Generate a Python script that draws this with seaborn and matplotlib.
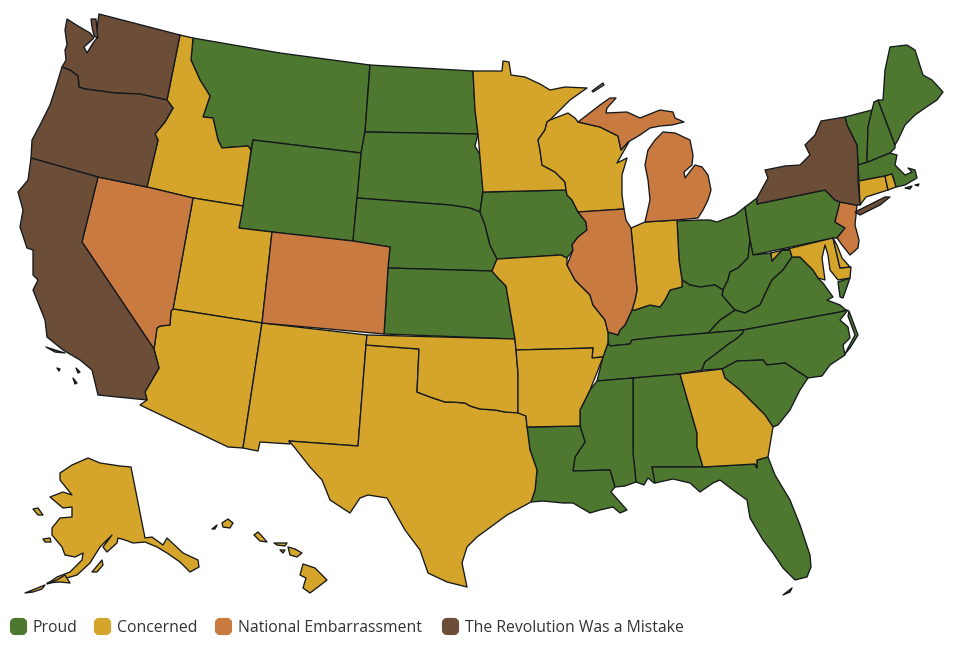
import matplotlib
matplotlib.use("Agg")
import matplotlib.pyplot as plt
from matplotlib.patches import FancyBboxPatch
import seaborn as sns

LEGEND_LABELS = ["Proud", "Concerned", "National Embarrassment", "The Revolution Was a Mistake"]
COLORS = ["#4E772F", "#D4A52A", "#C97A40", "#6B4D38"]

PROUD = ["MT","ND","SD","WY","NE","KS","IA","OH","PA","WV","VA","KY","TN","NC","SC","AL","MS","LA","FL","VT","NH","ME","MA"]
CONCERNED = ["ID","UT","AZ","NM","TX","OK","MO","AR","MN","WI","IN","GA","CT","RI","MD","DE","AK","HI"]
EMBARRASSED = ["NV","CO","IL","MI","NJ"]
MISTAKE = ["WA","OR","CA","NY"]

WA = [[(99,14),(180,35),(167,100),(140,94),(115,93),(100,91),(85,89),(79,87),(78,76),(70,70),(62,67),(66,60),(65,50),(67,45),(65,30),(67,19),(78,26),(90,33),(94,38),(84,47),(87,53),(93,43),(97,38),(97,28)],
      [(91,19),(96,19),(97,30),(98,38),(94,36),(92,27)]]
OR = [[(62,67),(70,70),(78,76),(79,87),(85,89),(100,91),(115,93),(140,94),(167,100),(173,108),(165,122),(155,134),(158,140),(147,187),(98,177),(31,158),(32,140),(40,125),(50,105),(55,90)]]
CA = [[(31,158),(98,177),(82,242),(154,349),(159,368),(145,392),(147,400),(98,395),(92,370),(80,360),(63,350),(47,337),(45,320),(33,290),(38,280),(33,275),(33,250),(27,248),(20,227),(23,210),(18,192),(28,180)],
      [(46,347),(55,350),(65,353),(55,352)],[(57,368),(60,369),(59,371)],[(76,368),(80,372),(78,373)],[(73,378),(77,383),(75,384)]]
NV = [[(98,177),(147,187),(193,198),(173,309),(171,311),(170,325),(160,326),(157,328),(154,349),(82,242)]]
ID = [[(180,35),(193,38),(191,60),(200,80),(210,96),(203,117),(213,118),(218,140),(222,148),(248,146),(251,150),(243,206),(193,198),(147,187),(158,140),(155,134),(165,122),(173,108),(167,100)]]
MT = [[(193,38),(280,53),(370,65),(365,132),(361,153),(253,140),(251,150),(248,146),(222,148),(218,140),(213,118),(203,117),(210,96),(200,80),(191,60)]]
WY = [[(253,140),(361,153),(357,198),(353,241),(272,232),(239,228)]]
UT = [[(193,198),(243,206),(239,228),(272,232),(262,323),(173,309)]]
CO = [[(272,232),(353,241),(390,247),(388,268),(384,334),(262,323)]]
AZ = [[(173,309),(262,323),(243,448),(228,447),(140,405),(147,400),(145,392),(159,368),(154,349),(157,328),(160,326),(170,325),(171,311)]]
NM = [[(262,323),(367,335),(366,345),(358,446),(289,441),(290,444),(260,442),(258,451),(243,448)]]
ND = [[(370,65),(473,71),(475,110),(478,134),(365,132)]]
SD = [[(365,132),(478,134),(475,146),(480,155),(483,190),(480,212),(470,208),(450,205),(357,198),(361,153)]]
NE = [[(357,198),(450,205),(470,208),(480,212),(485,225),(490,245),(497,259),(492,271),(388,268),(390,247),(353,241)]]
KS = [[(388,268),(492,271),(498,278),(506,286),(515,339),(384,334)]]
OK = [[(367,335),(515,339),(516,350),(518,373),(518,413),(505,412),(495,410),(480,409),(470,406),(465,403),(452,402),(445,402),(430,397),(417,392),(419,349),(366,345)]]
TX = [[(366,345),(419,349),(417,392),(430,397),(445,402),(452,402),(465,403),(470,406),(480,409),(495,410),(505,412),(517,407),(526,416),(527,427),(530,450),(537,470),(535,490),(531,502),(507,515),(477,537),(467,547),(462,563),(467,587),(447,582),(428,573),(420,550),(405,530),(387,498),(368,495),(360,498),(350,513),(330,500),(322,480),(310,467),(295,448),(289,441),(358,446)]]
MN = [[(473,71),(502,71),(503,61),(509,62),(511,75),(525,77),(540,84),(550,90),(565,87),(587,88),(570,100),(550,120),(547,122),(545,130),(538,140),(540,150),(542,165),(555,172),(565,182),(566,190),(483,192),(478,134),(475,110)]]
IA = [[(483,192),(566,190),(567,195),(572,200),(578,212),(586,222),(587,230),(578,237),(572,245),(573,250),(567,258),(561,255),(497,259),(490,245),(485,225),(480,212)]]
MO = [[(497,259),(561,255),(567,258),(567,265),(575,280),(590,295),(593,305),(605,320),(608,332),(608,343),(603,357),(592,358),(593,348),(516,350),(515,339),(506,286),(498,278),(492,271)]]
AR = [[(516,350),(593,348),(592,358),(603,357),(598,370),(590,390),(580,410),(580,426),(527,427),(526,416),(518,413),(518,373)]]
LA = [[(527,427),(580,426),(585,442),(575,457),(573,471),(610,470),(615,487),(611,492),(627,510),(620,513),(613,507),(600,510),(590,513),(573,503),(563,503),(543,501),(531,502),(535,490),(537,470),(530,450)]]
WI = [[(550,120),(568,113),(575,118),(578,122),(600,127),(618,136),(621,150),(630,140),(617,163),(627,158),(622,175),(622,195),(624,209),(580,212),(578,212),(572,200),(567,195),(566,190),(565,182),(555,172),(542,165),(540,150),(538,140),(545,130),(547,122)]]
IL = [[(578,212),(624,209),(626,220),(631,228),(637,290),(635,300),(632,310),(625,325),(620,330),(618,335),(608,332),(605,320),(593,305),(590,295),(575,280),(567,265),(573,250),(572,245),(578,237),(587,230),(586,222)]]
MI = [[(578,122),(600,105),(610,98),(616,98),(607,108),(606,113),(627,112),(640,118),(660,110),(673,112),(675,118),(684,122),(672,125),(660,126),(650,128),(640,135),(628,142),(621,150),(618,136),(600,127)],
      [(663,132),(675,133),(690,140),(693,155),(692,165),(684,172),(685,178),(695,165),(702,167),(708,175),(711,190),(708,200),(703,210),(698,218),(677,220),(645,222),(650,200),(648,180),(645,165),(648,150),(655,140)],
      [(592,91),(603,83),(604,85),(593,92)]]
IN = [[(631,228),(645,222),(677,220),(679,260),(682,280),(682,287),(670,290),(665,300),(660,307),(650,305),(635,310),(632,310),(635,300),(637,290)]]
OH = [[(677,221),(700,220),(710,220),(717,222),(735,215),(745,207),(750,240),(748,258),(738,268),(730,272),(728,280),(723,290),(715,285),(700,287),(690,285),(682,280),(679,260)]]
KY = [[(682,280),(690,285),(700,287),(715,285),(723,290),(722,295),(732,307),(735,310),(720,320),(708,333),(660,337),(632,340),(630,344),(610,346),(608,343),(608,332),(618,335),(620,330),(625,325),(632,310),(635,310),(650,305),(660,307),(665,300),(670,290),(682,287)]]
TN = [[(610,346),(630,344),(632,340),(660,337),(708,333),(743,330),(743,333),(735,340),(730,343),(717,353),(705,362),(702,370),(680,374),(633,378),(597,381),(603,357),(608,343)]]
WV = [[(723,290),(728,280),(730,272),(738,268),(748,258),(750,240),(753,255),(771,253),(772,261),(782,250),(790,250),(792,257),(783,270),(772,280),(767,290),(760,305),(745,313),(735,310),(732,307),(722,295)]]
VA = [[(708,333),(720,320),(735,310),(745,313),(760,305),(767,290),(772,280),(783,270),(792,257),(800,257),(813,270),(818,278),(823,283),(833,297),(827,300),(840,305),(846,310),(840,312),(743,330)],
      [(838,282),(850,278),(843,298),(840,297)]]
NC = [[(743,330),(840,312),(848,310),(840,320),(848,327),(850,338),(843,345),(845,355),(830,365),(822,376),(808,378),(785,363),(767,365),(763,360),(737,361),(722,369),(702,370),(705,362),(717,353),(730,343),(735,340),(743,333)],
      [(849,311),(858,335),(850,348),(845,354),(848,348),(855,335),(848,316)]]
SC = [[(722,369),(737,361),(763,360),(767,365),(785,363),(808,378),(800,390),(790,410),(778,425),(773,427),(765,415),(755,405),(740,390),(725,378)]]
GA = [[(680,374),(722,369),(725,378),(740,390),(755,405),(765,415),(773,427),(770,445),(768,457),(757,460),(757,468),(755,464),(703,467),(697,447),(697,433)]]
AL = [[(633,378),(680,374),(697,433),(697,447),(703,467),(652,467),(655,480),(658,482),(654,483),(648,478),(644,485),(636,482),(633,453)]]
MS = [[(597,381),(633,378),(633,453),(636,482),(625,486),(615,487),(610,470),(573,471),(575,457),(585,442),(580,426),(580,410),(590,390)]]
FL = [[(652,467),(703,467),(755,464),(757,468),(757,460),(768,457),(775,475),(790,500),(800,525),(810,555),(811,567),(807,577),(795,580),(783,568),(773,553),(763,540),(750,518),(747,500),(733,490),(720,480),(713,483),(700,492),(690,483),(673,479),(655,483)],
      [(783,595),(792,588),(790,592)]]
PA = [[(745,207),(757,198),(757,204),(825,190),(835,200),(840,202),(835,222),(845,228),(837,238),(833,238),(753,255),(750,240)]]
NY = [[(757,198),(768,178),(765,170),(785,166),(800,165),(810,155),(805,145),(815,135),(821,121),(845,117),(847,125),(857,145),(858,165),(858,181),(860,205),(855,205),(840,202),(835,200),(825,190),(757,204)],
      [(855,212),(885,197),(890,197),(880,205),(860,215)]]
NJ = [[(840,202),(857,205),(855,225),(859,240),(858,248),(850,255),(842,245),(837,238),(845,228),(835,222)]]
DE = [[(833,238),(837,245),(842,258),(850,267),(840,268)]]
MD = [[(771,253),(833,238),(840,268),(851,267),(850,278),(838,280),(830,270),(828,255),(825,245),(822,258),(825,280),(818,278),(813,270),(800,257),(792,257),(790,250),(782,250),(772,261)]]
CT = [[(859,181),(885,176),(888,190),(866,197),(860,205)]]
RI = [[(885,176),(892,174),(896,187),(888,190)]]
MA = [[(858,165),(868,162),(890,153),(897,155),(895,165),(905,175),(912,172),(908,168),(915,170),(917,178),(905,185),(896,187),(892,174),(885,176),(859,181)],
      [(905,188),(912,186),(910,189)],[(915,185),(919,184),(918,186)]]
VT = [[(845,117),(872,110),(868,127),(867,160),(868,162),(858,165),(857,145),(847,125)]]
NH = [[(872,110),(874,102),(878,100),(895,145),(895,148),(890,153),(868,162),(867,160),(868,127)]]
ME = [[(878,100),(883,100),(885,70),(890,47),(907,45),(915,50),(923,75),(932,80),(943,92),(937,100),(925,108),(915,115),(905,125),(898,140),(895,145)]]
AK = [[(131,467),(145,538),(152,537),(163,545),(167,538),(183,553),(198,560),(199,567),(190,572),(180,562),(167,553),(157,547),(145,542),(133,543),(125,540),(118,538),(117,543),(107,552),(103,547),(112,535),(100,547),(90,563),(77,575),(60,580),(47,584),(57,577),(70,572),(82,560),(83,553),(75,557),(65,555),(62,547),(52,535),(52,528),(60,518),(72,517),(72,507),(63,508),(50,497),(63,492),(72,495),(60,480),(60,473),(72,465),(88,458),(100,463),(120,466)],
      [(25,593),(35,589),(45,585),(42,589),(33,592)],[(92,572),(102,560),(103,565),(97,572)],
      [(43,539),(50,538),(51,542),(45,542)],[(33,509),(38,508),(43,515),(38,515)],
      [(47,583),(57,580),(65,575),(70,583),(60,582)]]
HI = [[(222,523),(228,519),(233,523),(230,528),(223,527)],[(212,529),(217,525),(215,529)],
      [(254,535),(258,532),(261,535),(267,542),(260,541)],[(274,543),(287,543),(285,546),(277,545)],
      [(280,550),(285,550),(283,553)],[(288,547),(295,549),(302,553),(297,557),(290,555)],
      [(303,564),(315,568),(327,580),(318,587),(310,593),(303,588),(306,578),(300,575)]]

SHAPES = dict(WA=WA, OR=OR, CA=CA, NV=NV, ID=ID, MT=MT, WY=WY, UT=UT, CO=CO, AZ=AZ, NM=NM, ND=ND, SD=SD,
              NE=NE, KS=KS, OK=OK, TX=TX, MN=MN, IA=IA, MO=MO, AR=AR, LA=LA, WI=WI, IL=IL, MI=MI, IN=IN,
              OH=OH, KY=KY, TN=TN, WV=WV, VA=VA, NC=NC, SC=SC, GA=GA, AL=AL, MS=MS, FL=FL, PA=PA, NY=NY,
              NJ=NJ, DE=DE, MD=MD, CT=CT, RI=RI, MA=MA, VT=VT, NH=NH, ME=ME, AK=AK, HI=HI)
GROUPS = [PROUD, CONCERNED, EMBARRASSED, MISTAKE]

sns.set_theme(style="white")
plt.rcParams["font.family"] = ["Open Sans", "DejaVu Sans"]
palette = sns.color_palette(COLORS)

fig, ax = plt.subplots(figsize=(9.6, 6.49), dpi=100)
ax.set_position([0, 0, 1, 1])
ax.set_xlim(0, 960)
ax.set_ylim(649, 0)
ax.axis("off")

for group, colour in zip(GROUPS, palette):
    for state in group:
        for ring in SHAPES[state]:
            xs, ys = zip(*ring)
            ax.fill(xs, ys, facecolor=colour, edgecolor="#14181c", linewidth=0.95, joinstyle="round")

swatch_x = [10, 94, 215, 442]
for x, label, colour in zip(swatch_x, LEGEND_LABELS, palette):
    ax.add_patch(FancyBboxPatch((x + 2, 620), 13, 13, boxstyle="round,pad=0,rounding_size=3",
                                mutation_scale=1, facecolor=colour, edgecolor=colour, linewidth=3))
    ax.text(x + 23, 628, label, fontsize=11.3, color="#333333", va="center", ha="left")

sns.despine(ax=ax, left=True, bottom=True)
fig.savefig("out.png", dpi=100, facecolor="white")
